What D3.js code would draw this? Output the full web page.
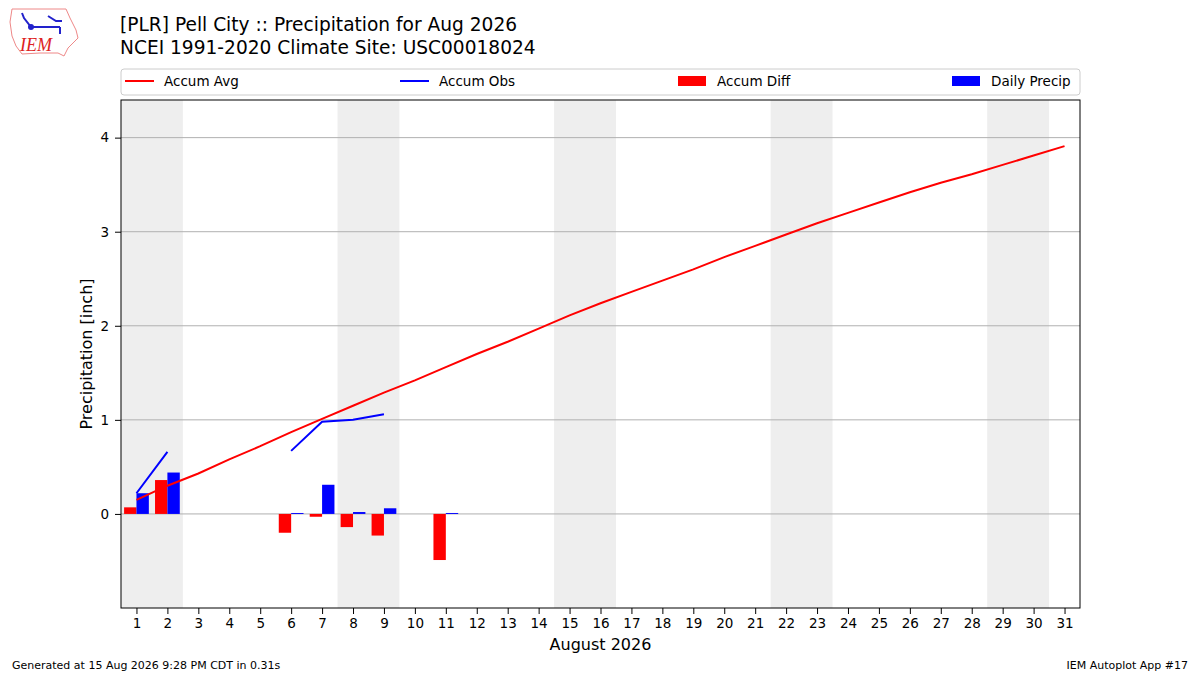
<!DOCTYPE html>
<html><head><meta charset="utf-8">
<script src="https://cdn.jsdelivr.net/npm/d3@7"></script>
<style>body{margin:0;background:#fff;font-family:"DejaVu Sans",sans-serif;}</style>
</head><body>
<svg id="chart" width="1200" height="675"></svg>
<script>
const days = d3.range(1, 32);
const accumAvg = [0.15,0.30,0.43,0.58,0.72,0.87,1.01,1.15,1.29,1.42,1.56,1.70,1.83,1.97,2.11,2.24,2.36,2.48,2.60,2.73,2.85,2.97,3.09,3.20,3.31,3.42,3.52,3.61,3.71,3.81,3.91];
const accumObs = [0.22,0.66,null,null,null,0.67,0.98,1.00,1.06];
const diffDays = [1,2,6,7,8,9,11];
const diffVals = [0.07,0.36,-0.20,-0.03,-0.14,-0.23,-0.49];
const precipDays = [1,2,6,7,8,9,11];
const precipVals = [0.22,0.44,0.01,0.31,0.02,0.06,0.01];
const weekends = [[1,2],[8,9],[15,16],[22,23],[29,30]];
const yTicks = [0,1,2,3,4];

const svg = d3.select("#chart");
const L = 121, R = 1080, T = 100, B = 608;
const x = d3.scaleLinear().domain([0.5, 31.5]).range([L, R]);
const y = d3.scaleLinear().domain([-1, 4.4]).range([B, T]);

// logo (rough)
const logo = svg.append("g");
logo.append("path").attr("d","M12,9 L66,9 L70,18 L76,30 L78,38 L72,44 L68,48 L64,56 L58,53 L40,53 L22,54 L16,46 L12,36 L10,22 Z")
  .attr("fill","none").attr("stroke","#e88").attr("stroke-width",1);
logo.append("text").attr("x",20).attr("y",51).text("IEM").attr("fill","#d22")
  .style("font-family","Liberation Serif").style("font-style","italic").style("font-size","18px");
logo.append("path").attr("d","M22,13 L24,18 L31,27 L60,27 M48,16 L56,21 L62,21 M60,27 L60,34").attr("stroke","#22c").attr("stroke-width",2).attr("fill","none");
logo.append("circle").attr("cx",31).attr("cy",27).attr("r",3).attr("fill","#22c");

svg.append("text").attr("x",120).attr("y",31).text("[PLR] Pell City :: Precipitation for Aug 2026").style("font-size","18.6px");
svg.append("text").attr("x",120).attr("y",54).text("NCEI 1991-2020 Climate Site: USC00018024").style("font-size","18.6px");

weekends.forEach(w => svg.append("rect").attr("x",x(w[0]-0.5)).attr("width",x(w[1]+0.5)-x(w[0]-0.5))
  .attr("y",T).attr("height",B-T).attr("fill","#eeeeee"));

yTicks.forEach(t => svg.append("line").attr("x1",L).attr("x2",R).attr("y1",y(t)).attr("y2",y(t)).attr("stroke","#b0b0b0"));

const bw = x(0.4) - x(0);
svg.selectAll(".diff").data(diffDays).enter().append("rect")
  .attr("x",d=>x(d)-bw).attr("width",bw)
  .attr("y",(d,i)=>y(Math.max(0,diffVals[i]))).attr("height",(d,i)=>Math.abs(y(diffVals[i])-y(0)))
  .attr("fill","red");
svg.selectAll(".pr").data(precipDays).enter().append("rect")
  .attr("x",d=>x(d)).attr("width",bw)
  .attr("y",(d,i)=>y(precipVals[i])).attr("height",(d,i)=>y(0)-y(precipVals[i]))
  .attr("fill","blue");

const line = d3.line().defined(d=>d[1]!=null).x(d=>x(d[0])).y(d=>y(d[1]));
svg.append("path").attr("d",line(days.map((d,i)=>[d,accumAvg[i]]))).attr("fill","none").attr("stroke","red").attr("stroke-width",2);
svg.append("path").attr("d",line(accumObs.map((v,i)=>[i+1,v]))).attr("fill","none").attr("stroke","blue").attr("stroke-width",2);

svg.append("rect").attr("x",L).attr("y",T).attr("width",R-L).attr("height",B-T).attr("fill","none").attr("stroke","#000");

const xa = svg.append("g").attr("transform",`translate(0,${B})`).call(d3.axisBottom(x).tickValues(days).tickSizeOuter(0).tickPadding(4));
const ya = svg.append("g").attr("transform",`translate(${L},0)`).call(d3.axisLeft(y).tickValues(yTicks).tickFormat(d3.format("d")).tickSizeOuter(0).tickPadding(6));
[xa,ya].forEach(a=>{a.select(".domain").remove();a.selectAll("text").style("font-size","13.5px").style("font-family","DejaVu Sans").attr("fill","#000");});

svg.append("text").attr("x",(L+R)/2).attr("y",650).attr("text-anchor","middle").text("August 2026").style("font-size","16px");
svg.append("text").attr("transform",`translate(92,${(T+B)/2}) rotate(-90)`).attr("text-anchor","middle").text("Precipitation [inch]").style("font-size","16px");

// legend
const lg = svg.append("g");
lg.append("rect").attr("x",121).attr("y",69).attr("width",959).attr("height",26).attr("rx",3).attr("fill","#fff").attr("stroke","#ccc");
const items = [["Accum Avg","red","line",125],["Accum Obs","blue","line",400],["Accum Diff","red","box",678],["Daily Precip","blue","box",952]];
items.forEach(it=>{
  if(it[2]=="line") lg.append("line").attr("x1",it[3]).attr("x2",it[3]+29).attr("y1",81).attr("y2",81).attr("stroke",it[1]).attr("stroke-width",2);
  else lg.append("rect").attr("x",it[3]).attr("y",76).attr("width",28).attr("height",10).attr("fill",it[1]);
  lg.append("text").attr("x",it[3]+39).attr("y",86).text(it[0]).style("font-size","13.5px");
});

svg.append("text").attr("x",12).attr("y",669).text("Generated at 15 Aug 2026 9:28 PM CDT in 0.31s").style("font-size","11px");
svg.append("text").attr("x",1188).attr("y",669).attr("text-anchor","end").text("IEM Autoplot App #17").style("font-size","11px");
</script>
</body></html>
